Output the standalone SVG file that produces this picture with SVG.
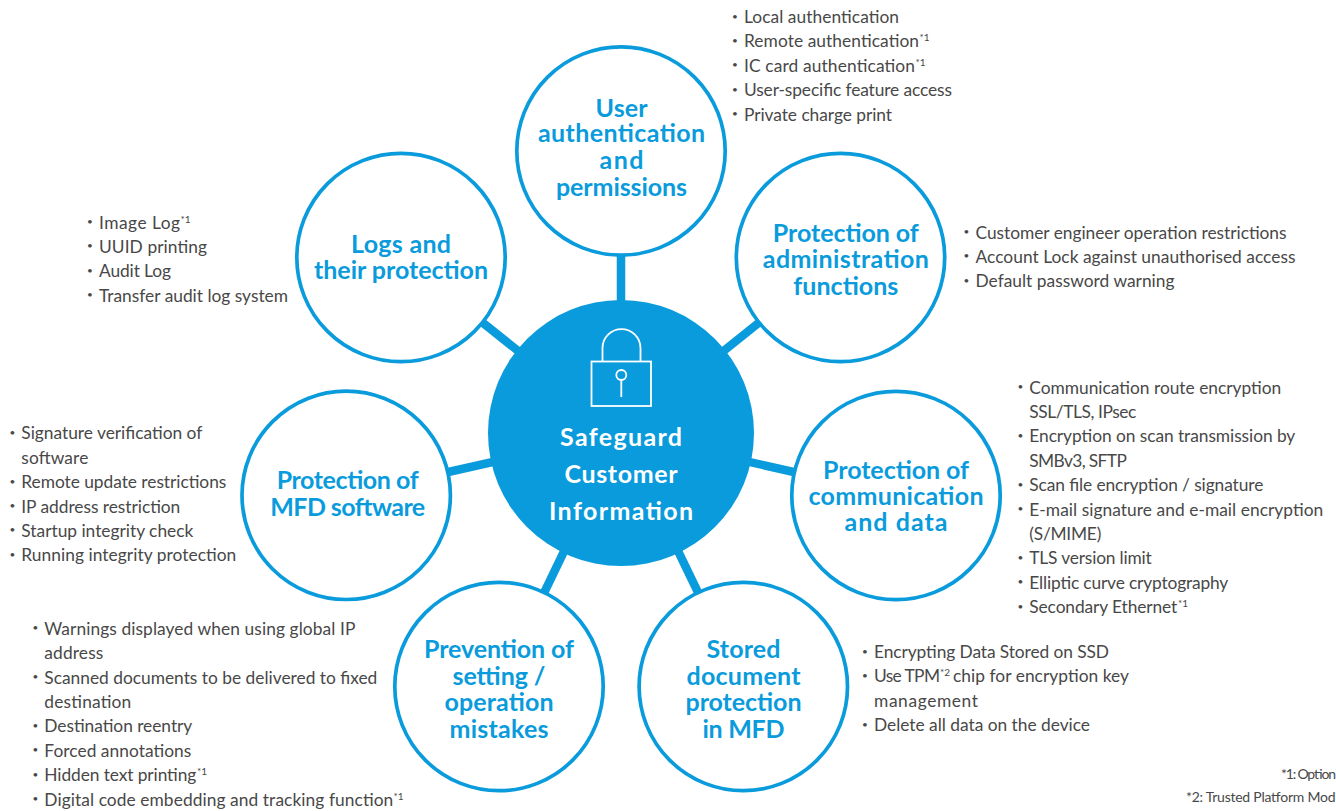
<svg xmlns="http://www.w3.org/2000/svg" width="1336" height="811" viewBox="0 0 1336 811">
<style>
text{font-family:"Lato","Noto Sans",sans-serif}
.t{font-size:25px;font-weight:700;fill:#0a9bdc;text-anchor:middle;transform:translateY(.8px)}
.c{font-size:25px;font-weight:700;fill:#fff;text-anchor:middle;transform:translateY(.5px)}
.l{font-size:17.350px;fill:#484848;transform:translateY(.4px)}
.b{font-size:10px;fill:#484848;text-anchor:middle;transform:translateY(.4px)}
.s{font-size:10px}
.f{font-size:14px;fill:#484848}
.ring{fill:#fff;stroke:#0a9bdc;stroke-width:3.700}
.link{stroke:#0a9bdc;stroke-width:8.500;fill:none}
.ico{fill:none;stroke:#fff;stroke-width:1.800}
</style>
<rect width="1336" height="811" fill="#fff"/>
<g id="connectors">
<line class="link" x1="621" y1="433" x2="621" y2="151"/>
<line class="link" x1="621" y1="433" x2="840.500" y2="257.500"/>
<line class="link" x1="621" y1="433" x2="401" y2="257.500"/>
<line class="link" x1="621" y1="433" x2="896" y2="495"/>
<line class="link" x1="621" y1="433" x2="346" y2="495"/>
<line class="link" x1="621" y1="433" x2="743.500" y2="686.500"/>
<line class="link" x1="621" y1="433" x2="499" y2="686.500"/>
</g>
<g id="center"><circle cx="621" cy="433" r="133" fill="#0a9bdc"/>
<path class="ico" d="M602.500 361V348a19 19 0 0 1 38 0V361"/>
<rect class="ico" x="591.500" y="361.500" width="59.500" height="44.500"/>
<circle class="ico" cx="621.300" cy="375" r="5"/><line class="ico" x1="621.300" y1="380" x2="621.300" y2="397"/>
<text class="c" x="621" y="445.700" textLength="122">Safeguard</text><text class="c" x="621" y="482.300" textLength="113">Customer</text><text class="c" x="621" y="519" textLength="144">Information</text></g>
<g id="user"><circle class="ring" cx="621" cy="151" r="104.200"/><text class="t" x="621.500" y="116" textLength="52">User</text><text class="t" x="621.500" y="141.700" textLength="167">authentication</text><text class="t" x="621.500" y="168.300" textLength="44">and</text><text class="t" x="621.500" y="195" textLength="131">permissions</text>
<text class="b" x="735" y="19.200">•</text><text class="l" y="22.700"><tspan x="744" textLength="155">Local authentication</tspan></text>
<text class="b" x="735" y="43.600">•</text><text class="l" y="47.100"><tspan x="744" textLength="175">Remote authentication</tspan><tspan class="s" x="919.500" dy="-6">*1</tspan></text>
<text class="b" x="735" y="68">•</text><text class="l" y="71.500"><tspan x="744" textLength="171">IC card authentication</tspan><tspan class="s" x="915.500" dy="-6">*1</tspan></text>
<text class="b" x="735" y="92.400">•</text><text class="l" y="95.900"><tspan x="744" textLength="208">User-specific feature access</tspan></text>
<text class="b" x="735" y="116.800">•</text><text class="l" y="120.300"><tspan x="744" textLength="148">Private charge print</tspan></text></g>
<g id="admin"><circle class="ring" cx="840.500" cy="257.500" r="104.200"/><text class="t" x="845.800" y="241" textLength="146">Protection of</text><text class="t" x="845.800" y="267.700" textLength="166">administration</text><text class="t" x="845.800" y="294" textLength="105">functions</text>
<text class="b" x="966.500" y="234.700">•</text><text class="l" y="238.200"><tspan x="975.500" textLength="311">Customer engineer operation restrictions</tspan></text>
<text class="b" x="966.500" y="259.100">•</text><text class="l" y="262.600"><tspan x="975.500" textLength="320">Account Lock against unauthorised access</tspan></text>
<text class="b" x="966.500" y="283.500">•</text><text class="l" y="287"><tspan x="975.500" textLength="199">Default password warning</tspan></text></g>
<g id="logs"><circle class="ring" cx="401" cy="257.500" r="104.200"/><text class="t" x="401" y="252" textLength="100">Logs and</text><text class="t" x="401" y="278" textLength="174">their protection</text>
<text class="b" x="90" y="224.700">•</text><text class="l" y="228.200"><tspan x="99" textLength="81">Image Log</tspan><tspan class="s" x="180.500" dy="-6">*1</tspan></text>
<text class="b" x="90" y="249.100">•</text><text class="l" y="252.600"><tspan x="99" textLength="108">UUID printing</tspan></text>
<text class="b" x="90" y="273.500">•</text><text class="l" y="277"><tspan x="99" textLength="72">Audit Log</tspan></text>
<text class="b" x="90" y="297.900">•</text><text class="l" y="301.400"><tspan x="99" textLength="189">Transfer audit log system</tspan></text></g>
<g id="comm"><circle class="ring" cx="896" cy="495.500" r="104.200"/><text class="t" x="896" y="478" textLength="146">Protection of</text><text class="t" x="896" y="504.500" textLength="175">communication</text><text class="t" x="896" y="530.500" textLength="103">and data</text>
<text class="b" x="1020.500" y="389.800">•</text><text class="l" y="393.300"><tspan x="1029.300" textLength="252">Communication route encryption</tspan></text>
<text class="l" y="417.700"><tspan x="1029.300" textLength="107">SSL/TLS, IPsec</tspan></text>
<text class="b" x="1020.500" y="438.600">•</text><text class="l" y="442.100"><tspan x="1029.300" textLength="266">Encryption on scan transmission by</tspan></text>
<text class="l" y="466.500"><tspan x="1029.300" textLength="97.500">SMBv3, SFTP</tspan></text>
<text class="b" x="1020.500" y="487.400">•</text><text class="l" y="490.900"><tspan x="1029.300" textLength="234">Scan file encryption / signature</tspan></text>
<text class="b" x="1020.500" y="511.800">•</text><text class="l" y="515.300"><tspan x="1029.300" textLength="294">E-mail signature and e-mail encryption</tspan></text>
<text class="l" y="539.700"><tspan x="1029.300" textLength="72">(S/MIME)</tspan></text>
<text class="b" x="1020.500" y="560.600">•</text><text class="l" y="564.100"><tspan x="1029.300" textLength="122.500">TLS version limit</tspan></text>
<text class="b" x="1020.500" y="585">•</text><text class="l" y="588.500"><tspan x="1029.300" textLength="199">Elliptic curve cryptography</tspan></text>
<text class="b" x="1020.500" y="609.400">•</text><text class="l" y="612.900"><tspan x="1029.300" textLength="148">Secondary Ethernet</tspan><tspan class="s" x="1178" dy="-6">*1</tspan></text></g>
<g id="software"><circle class="ring" cx="346.200" cy="495.300" r="104.200"/><text class="t" x="347.700" y="488" textLength="142">Protection of</text><text class="t" x="347.700" y="515" textLength="155">MFD software</text>
<text class="b" x="12.500" y="435.500">•</text><text class="l" y="439"><tspan x="21.300" textLength="181">Signature verification of</tspan></text>
<text class="l" y="463.400"><tspan x="21.300" textLength="67">software</tspan></text>
<text class="b" x="12.500" y="484.300">•</text><text class="l" y="487.800"><tspan x="21.300" textLength="205">Remote update restrictions</tspan></text>
<text class="b" x="12.500" y="508.700">•</text><text class="l" y="512.200"><tspan x="21.300" textLength="159">IP address restriction</tspan></text>
<text class="b" x="12.500" y="533.100">•</text><text class="l" y="536.600"><tspan x="21.300" textLength="172">Startup integrity check</tspan></text>
<text class="b" x="12.500" y="557.500">•</text><text class="l" y="561"><tspan x="21.300" textLength="215">Running integrity protection</tspan></text></g>
<g id="stored"><circle class="ring" cx="743.300" cy="686.500" r="104.200"/><text class="t" x="743.500" y="657" textLength="74">Stored</text><text class="t" x="743.500" y="684" textLength="114">document</text><text class="t" x="743.500" y="710.700" textLength="116">protection</text><text class="t" x="743.500" y="737" textLength="82">in MFD</text>
<text class="b" x="865" y="654.200">•</text><text class="l" y="657.700"><tspan x="874" textLength="235">Encrypting Data Stored on SSD</tspan></text>
<text class="b" x="865" y="678.600">•</text><text class="l" y="682.100"><tspan x="874" textLength="66">Use TPM</tspan><tspan class="s" x="940" dy="-6">*2</tspan><tspan x="953" dy="6" textLength="176">chip for encryption key</tspan></text>
<text class="l" y="706.500"><tspan x="874" textLength="104">management</tspan></text>
<text class="b" x="865" y="727.400">•</text><text class="l" y="730.900"><tspan x="874" textLength="216">Delete all data on the device</tspan></text></g>
<g id="prevention"><circle class="ring" cx="499" cy="686.500" r="104.200"/><text class="t" x="499" y="657" textLength="150">Prevention of</text><text class="t" x="499" y="684" textLength="93">setting /</text><text class="t" x="499" y="710.700" textLength="109">operation</text><text class="t" x="499" y="737" textLength="99">mistakes</text>
<text class="b" x="35.500" y="631">•</text><text class="l" y="634.500"><tspan x="44.300" textLength="311">Warnings displayed when using global IP</tspan></text>
<text class="l" y="658.900"><tspan x="44.300" textLength="59">address</tspan></text>
<text class="b" x="35.500" y="679.800">•</text><text class="l" y="683.300"><tspan x="44.300" textLength="333">Scanned documents to be delivered to fixed</tspan></text>
<text class="l" y="707.700"><tspan x="44.300" textLength="87">destination</tspan></text>
<text class="b" x="35.500" y="728.600">•</text><text class="l" y="732.100"><tspan x="44.300" textLength="148">Destination reentry</tspan></text>
<text class="b" x="35.500" y="753">•</text><text class="l" y="756.500"><tspan x="44.300" textLength="147">Forced annotations</tspan></text>
<text class="b" x="35.500" y="777.400">•</text><text class="l" y="780.900"><tspan x="44.300" textLength="152">Hidden text printing</tspan><tspan class="s" x="197" dy="-6">*1</tspan></text>
<text class="b" x="35.500" y="801.800">•</text><text class="l" y="805.300"><tspan x="44.300" textLength="349">Digital code embedding and tracking function</tspan><tspan class="s" x="393.500" dy="-6">*1</tspan></text></g>
<g id="notes"><text class="f" x="1281" y="779" textLength="55">*1: Option</text><text class="f" x="1186" y="802.300" textLength="149.500">*2: Trusted Platform Mod</text></g>
</svg>
